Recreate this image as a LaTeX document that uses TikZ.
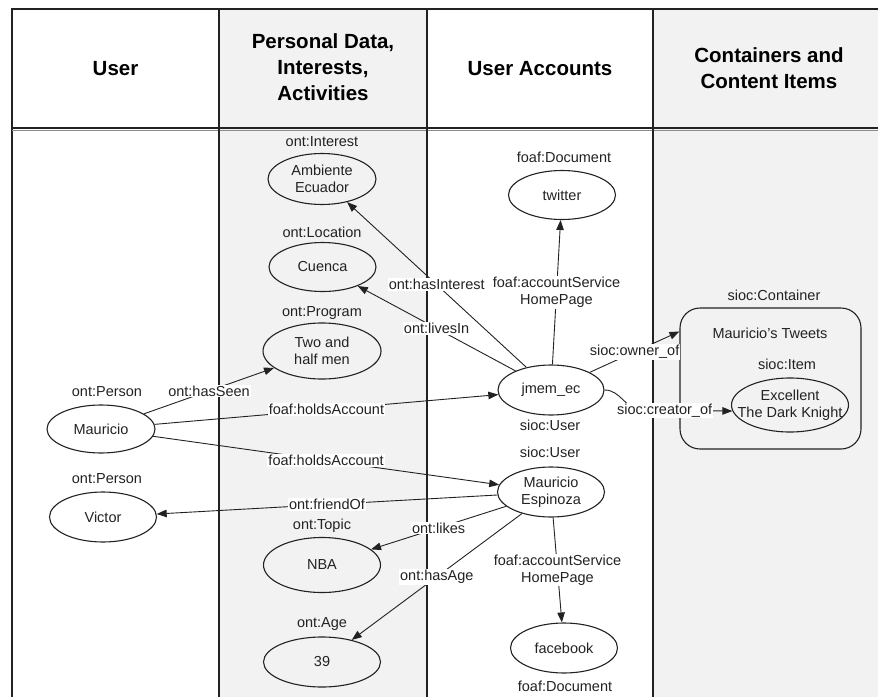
\documentclass[tikz,border=0pt]{standalone}
\usepackage{fontspec}
\setmainfont{Liberation Sans}
\usetikzlibrary{arrows.meta,calc,shapes.geometric}
\definecolor{ink}{HTML}{222222}
\definecolor{colgray}{HTML}{F2F2F2}
\begin{document}
\begin{tikzpicture}[x=1pt,y=-1pt,
  every node/.style={font=\fontsize{14.5}{17}\selectfont, text=ink},
  ent/.style={draw=ink, ellipse, line width=1.1pt, inner sep=0pt, align=center},
  typ/.style={inner sep=0pt},
  lbl/.style={fill=white, inner sep=1pt, align=center},
  arr/.style={draw=ink, line width=0.9pt, -{Triangle[length=10pt,width=7.5pt]}},
  plain/.style={draw=ink, line width=0.9pt},
  hdr/.style={font=\fontsize{20.5}{26}\selectfont\bfseries, align=center, text=black},
]
\useasboundingbox (0,0) rectangle (878,696);
\clip (0,0) rectangle (878,696);
% columns
\fill[colgray] (219,9) rectangle (427,720);
\fill[colgray] (653,9) rectangle (890,720);
\draw[ink, line width=1.4pt] (12,720) -- (12,9) -- (890,9);
\draw[ink, line width=1.2pt] (12,128) -- (890,128);
\draw[black!45, line width=0.8pt] (12,130.5) -- (890,130.5);
\foreach \x in {219,427,653} \draw[ink,line width=1.2pt] (\x,9) -- (\x,720);
% headers
\node[hdr] (h1) at (115.5,69) {User};
\node[hdr] (h2) at (323,67) {Personal Data,\\Interests,\\Activities};
\node[hdr] (h3) at (540,69) {User Accounts};
\node[hdr] (h4) at (769,68) {Containers and\\Content Items};
% entities
\node[ent, minimum width=108pt, minimum height=51pt] (ae) at (322,179) {Ambiente\\Ecuador};
\node[ent, minimum width=107pt, minimum height=49pt] (cu) at (322.5,267) {Cuenca};
\node[ent, minimum width=118pt, minimum height=56pt] (th) at (322,351) {Two and\\half men};
\node[ent, minimum width=108pt, minimum height=48pt] (ma) at (101,429) {Mauricio};
\node[ent, minimum width=107pt, minimum height=50pt] (vi) at (103,517) {Victor};
\node[ent, minimum width=117pt, minimum height=55pt] (nba) at (322,565) {NBA};
\node[ent, minimum width=117pt, minimum height=50pt] (age) at (322,662) {39};
\node[ent, minimum width=107pt, minimum height=49pt] (tw) at (562,195) {twitter};
\node[ent, minimum width=106pt, minimum height=50pt] (jm) at (551,390) {jmem\_ec};
\node[ent, minimum width=107pt, minimum height=50pt] (me) at (551,492) {Mauricio\\Espinoza};
\node[ent, minimum width=107pt, minimum height=50pt] (fb) at (564,648) {facebook};
\node[draw=ink, line width=1.1pt, rounded corners=20pt, minimum width=181pt, minimum height=141pt] (cont) at (770.5,378.5) {};
\node[ent, minimum width=117pt, minimum height=54pt] (ex) at (790,405) {};
\node[align=center, inner sep=0pt] (ext) at (ex.center) {Excellent\\The Dark Knight};
% type labels
\node[typ] (tae) at (322,142) {ont:Interest};
\node[typ] (tcu) at (322,232) {ont:Location};
\node[typ] (tth) at (322,313) {ont:Program};
\node[typ] (tma) at (107,392) {ont:Person};
\node[typ] (tvi) at (107,479) {ont:Person};
\node[typ] (tnba) at (322,526) {ont:Topic};
\node[typ] (tage) at (322,624) {ont:Age};
\node[typ] (ttw) at (564,157) {foaf:Document};
\node[typ] (tjm) at (550,425) {sioc:User};
\node[typ] (tme) at (550,452) {sioc:User};
\node[typ] (tfb) at (565,686) {foaf:Document};
\node[typ] (tcont) at (774,295) {sioc:Container};
\node[typ] (cname) at (770,333) {Mauricio's Tweets};
\node[typ] (tex) at (787,364) {sioc:Item};
% connectors
\draw[arr] (jm) -- node[lbl] {ont:hasInterest} (ae);
\draw[arr] (jm) -- node[lbl] {ont:livesIn} (cu);
\draw[arr] (jm) -- node[lbl] {foaf:accountService\\HomePage} (tw);
\draw[arr] (jm) -- node[lbl] {sioc:owner\_of} ($(cont.north west)+(0,24)$);
\coordinate (cb) at (642,410);
\draw[arr] (jm.east) to[out=0,in=180] (cb) -- node[lbl,pos=0.25] {sioc:creator\_of} (ex.186);
\draw[arr] (ma) -- node[lbl] {ont:hasSeen} (th);
\draw[arr] (ma) -- node[lbl] {foaf:holdsAccount} (jm.185);
\draw[arr] (ma) -- node[lbl] {foaf:holdsAccount} (me);
\draw[arr] (me) -- node[lbl] {ont:friendOf} (vi);
\draw[arr] (me) -- node[lbl] {ont:likes} (nba);
\draw[arr] (me) -- node[lbl] {ont:hasAge} (age);
\draw[arr] (me) -- node[lbl] {foaf:accountService\\HomePage} (fb);
\end{tikzpicture}
\end{document}
